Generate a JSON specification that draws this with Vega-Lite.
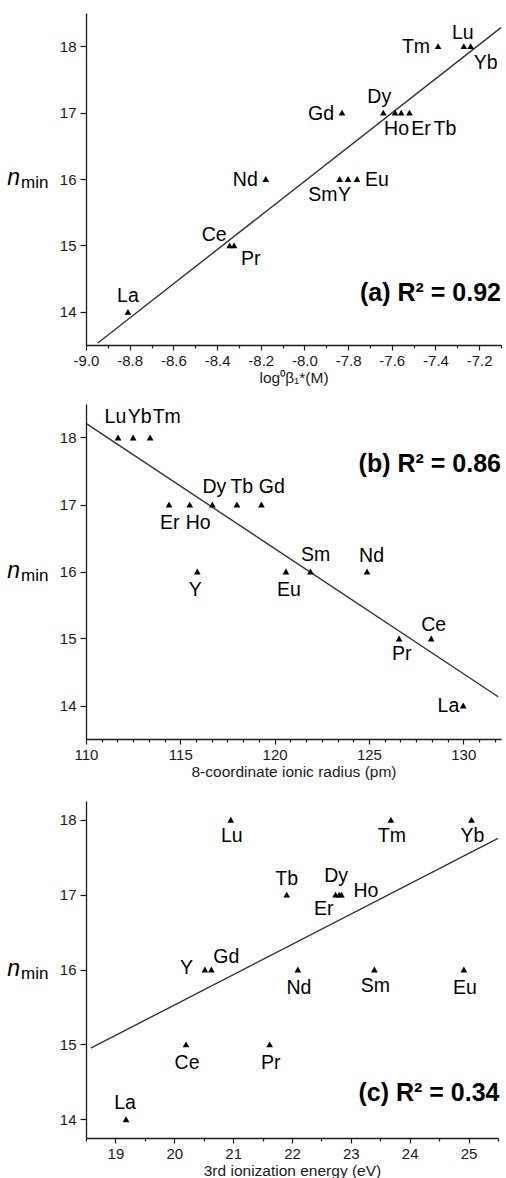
{
  "$schema": "https://vega.github.io/schema/vega-lite/v6.json",
  "padding": {"left": 7, "top": 13, "right": 0, "bottom": 0},
  "config": {
    "font": "Liberation Sans",
    "view": {"stroke": null},
    "axis": {"grid": false, "domainColor": "#1a1a1a", "domainWidth": 1.3, "tickColor": "#1a1a1a", "tickWidth": 1.2, "labelColor": "#1a1a1a", "labelFontSize": 15, "labelFont": "Liberation Sans", "titleFont": "Liberation Sans", "titleFontSize": 15.5, "titleFontWeight": "normal", "titleColor": "#1a1a1a", "labelFlush": false, "labelOverlap": false},
    "axisX": {"labelPadding": 3, "titlePadding": 2},
    "axisY": {"tickSize": 6, "labelPadding": 4},
    "text": {"fontSize": 19.5, "baseline": "alphabetic", "color": "#000", "font": "Liberation Sans"},
    "line": {"color": "#333", "strokeWidth": 1.4},
    "point": {"shape": "triangle-up", "filled": true, "size": 45, "color": "#000", "opacity": 1}
  },
  "datasets": {
    "a": [
      {"el": "La", "x": -8.808, "y": 14},
      {"el": "Ce", "x": -8.342, "y": 15},
      {"el": "Pr", "x": -8.322, "y": 15},
      {"el": "Nd", "x": -8.177, "y": 16},
      {"el": "Sm", "x": -7.839, "y": 16},
      {"el": "Eu", "x": -7.759, "y": 16},
      {"el": "Gd", "x": -7.828, "y": 17},
      {"el": "Tb", "x": -7.519, "y": 17},
      {"el": "Dy", "x": -7.639, "y": 17},
      {"el": "Ho", "x": -7.585, "y": 17},
      {"el": "Er", "x": -7.557, "y": 17},
      {"el": "Tm", "x": -7.388, "y": 18},
      {"el": "Yb", "x": -7.239, "y": 18},
      {"el": "Lu", "x": -7.27, "y": 18},
      {"el": "Y", "x": -7.8, "y": 16}
    ],
    "b": [
      {"el": "La", "x": 130.0, "y": 14},
      {"el": "Ce", "x": 128.3, "y": 15},
      {"el": "Pr", "x": 126.6, "y": 15},
      {"el": "Nd", "x": 124.9, "y": 16},
      {"el": "Sm", "x": 121.9, "y": 16},
      {"el": "Eu", "x": 120.6, "y": 16},
      {"el": "Gd", "x": 119.3, "y": 17},
      {"el": "Tb", "x": 118.0, "y": 17},
      {"el": "Dy", "x": 116.7, "y": 17},
      {"el": "Ho", "x": 115.5, "y": 17},
      {"el": "Er", "x": 114.4, "y": 17},
      {"el": "Tm", "x": 113.4, "y": 18},
      {"el": "Yb", "x": 112.5, "y": 18},
      {"el": "Lu", "x": 111.7, "y": 18},
      {"el": "Y", "x": 115.9, "y": 16}
    ],
    "c": [
      {"el": "La", "x": 19.18, "y": 14},
      {"el": "Ce", "x": 20.2, "y": 15},
      {"el": "Pr", "x": 21.62, "y": 15},
      {"el": "Nd", "x": 22.1, "y": 16},
      {"el": "Sm", "x": 23.4, "y": 16},
      {"el": "Eu", "x": 24.92, "y": 16},
      {"el": "Gd", "x": 20.63, "y": 16},
      {"el": "Tb", "x": 21.91, "y": 17},
      {"el": "Dy", "x": 22.8, "y": 17},
      {"el": "Ho", "x": 22.84, "y": 17},
      {"el": "Er", "x": 22.74, "y": 17},
      {"el": "Tm", "x": 23.68, "y": 18},
      {"el": "Yb", "x": 25.05, "y": 18},
      {"el": "Lu", "x": 20.96, "y": 18},
      {"el": "Y", "x": 20.52, "y": 16}
    ],
    "fitA": [{"x": -8.946, "y": 13.53}, {"x": -7.1, "y": 18.28}],
    "fitB": [{"x": 110, "y": 18.21}, {"x": 131.85, "y": 14.13}],
    "fitC": [{"x": 18.58, "y": 14.95}, {"x": 25.5, "y": 17.75}]
  },
  "spacing": 18,
  "vconcat": [
    {
      "width": 415, "height": 332,
      "resolve": {"scale": {"x": "independent", "y": "independent"}},
      "layer": [
        {
          "data": {"name": "a"},
          "encoding": {
            "x": {"field": "x", "type": "quantitative", "scale": {"domain": [-9, -7.1], "nice": false, "zero": false},
              "axis": {"title": "log⁰β₁*(M)", "labelOverlap": false, "values": [-9, -8.9, -8.8, -8.7, -8.6, -8.5, -8.4, -8.3, -8.2, -8.1, -8, -7.9, -7.8, -7.7, -7.6, -7.5, -7.4, -7.3, -7.2, -7.1],
                "labelExpr": "round(datum.value*10) % 2 == 0 ? replace(format(datum.value, '.1f'), '\u2212', '-') : ''",
                "tickSize": {"condition": {"test": "round(datum.value*10) % 2 == 0", "value": 5}, "value": 3}}},
            "y": {"field": "y", "type": "quantitative", "scale": {"domain": [13.5, 18.5], "nice": false, "zero": false},
              "axis": {"title": null, "format": "d", "labelOverlap": false, "values": [14, 15, 16, 17, 18]}}
          },
          "layer": [
            {"data": {"name": "fitA"}, "mark": {"type": "line"}, "encoding": {}},
            {"mark": {"type": "point"}},
            {"transform": [{"filter": {"field": "el", "oneOf": ["Nd", "Gd", "Tm"]}}], "mark": {"type": "text", "align": "right", "dx": -8, "dy": 7}, "encoding": {"text": {"field": "el"}}},
            {"transform": [{"filter": {"field": "el", "equal": "Eu"}}], "mark": {"type": "text", "align": "left", "dx": 8, "dy": 7}, "encoding": {"text": {"field": "el"}}},
            {"transform": [{"filter": {"field": "el", "equal": "La"}}], "mark": {"type": "text", "align": "center", "dx": 0, "dy": -10}, "encoding": {"text": {"field": "el"}}},
            {"transform": [{"filter": {"field": "el", "equal": "Lu"}}], "mark": {"type": "text", "align": "center", "dx": -1, "dy": -7.5}, "encoding": {"text": {"field": "el"}}},
            {"transform": [{"filter": {"field": "el", "equal": "Dy"}}], "mark": {"type": "text", "align": "center", "dx": -4, "dy": -9.5}, "encoding": {"text": {"field": "el"}}},
            {"transform": [{"filter": {"field": "el", "equal": "Ce"}}], "mark": {"type": "text", "align": "right", "dx": -3, "dy": -4}, "encoding": {"text": {"field": "el"}}},
            {"transform": [{"filter": {"field": "el", "equal": "Pr"}}], "mark": {"type": "text", "align": "left", "dx": 7, "dy": 20}, "encoding": {"text": {"field": "el"}}},
            {"transform": [{"filter": {"field": "el", "equal": "Sm"}}], "mark": {"type": "text", "align": "right", "dx": -2, "dy": 22}, "encoding": {"text": {"field": "el"}}},
            {"transform": [{"filter": {"field": "el", "equal": "Y"}}], "mark": {"type": "text", "align": "left", "dx": -10, "dy": 22}, "encoding": {"text": {"field": "el"}}},
            {"transform": [{"filter": {"field": "el", "equal": "Ho"}}], "mark": {"type": "text", "align": "left", "dx": -11, "dy": 22}, "encoding": {"text": {"field": "el"}}},
            {"transform": [{"filter": {"field": "el", "equal": "Er"}}], "mark": {"type": "text", "align": "left", "dx": 10, "dy": 22}, "encoding": {"text": {"field": "el"}}},
            {"transform": [{"filter": {"field": "el", "equal": "Tb"}}], "mark": {"type": "text", "align": "left", "dx": 24, "dy": 22}, "encoding": {"text": {"field": "el"}}},
            {"transform": [{"filter": {"field": "el", "equal": "Yb"}}], "mark": {"type": "text", "align": "left", "dx": 3, "dy": 23}, "encoding": {"text": {"field": "el"}}}
          ]
        },
        {"data": {"values": [{"label": "(a) R² = 0.92"}]}, "mark": {"type": "text", "align": "right", "fontSize": 25, "fontWeight": "bold"},
          "encoding": {"x": {"datum": -7.1, "scale": {"domain": [-9, -7.1], "nice": false, "zero": false}, "axis": null}, "y": {"datum": 14.16, "scale": {"domain": [13.5, 18.5], "nice": false, "zero": false}, "axis": null}, "text": {"field": "label"}}},
        {"data": {"values": [{"label": "n"}]}, "mark": {"type": "text", "align": "right", "dx": -66, "dy": 6, "fontSize": 23, "fontStyle": "italic"},
          "encoding": {"x": {"datum": -9, "scale": {"domain": [-9, -7.1], "nice": false, "zero": false}, "axis": null}, "y": {"datum": 16, "scale": {"domain": [13.5, 18.5], "nice": false, "zero": false}, "axis": null}, "text": {"field": "label"}}},
        {"data": {"values": [{"label": "min"}]}, "mark": {"type": "text", "align": "left", "dx": -65, "dy": 9, "fontSize": 17},
          "encoding": {"x": {"datum": -9, "scale": {"domain": [-9, -7.1], "nice": false, "zero": false}, "axis": null}, "y": {"datum": 16, "scale": {"domain": [13.5, 18.5], "nice": false, "zero": false}, "axis": null}, "text": {"field": "label"}}}
      ]
    },
    {
      "spacing": 21,
      "vconcat": [
        {
          "width": 415, "height": 335,
          "resolve": {"scale": {"x": "independent", "y": "independent"}},
          "layer": [
            {
              "data": {"name": "b"},
              "encoding": {
                "x": {"field": "x", "type": "quantitative", "scale": {"domain": [110, 132], "nice": false, "zero": false},
                  "axis": {"title": "8-coordinate ionic radius (pm)", "labelOverlap": false, "values": [110, 110.833, 111.667, 112.5, 113.333, 114.167, 115, 115.833, 116.667, 117.5, 118.333, 119.167, 120, 120.833, 121.667, 122.5, 123.333, 124.167, 125, 125.833, 126.667, 127.5, 128.333, 129.167, 130, 130.833, 131.667],
                    "labelExpr": "datum.value % 5 == 0 ? format(datum.value, 'd') : ''",
                    "tickSize": {"condition": {"test": "datum.value % 5 == 0", "value": 5}, "value": 3}}},
                "y": {"field": "y", "type": "quantitative", "scale": {"domain": [13.5, 18.5], "nice": false, "zero": false},
                  "axis": {"title": null, "format": "d", "labelOverlap": false, "values": [14, 15, 16, 17, 18]}}
              },
              "layer": [
                {"data": {"name": "fitB"}, "mark": {"type": "line"}, "encoding": {}},
                {"mark": {"type": "point"}},
                {"transform": [{"filter": {"field": "el", "equal": "Lu"}}], "mark": {"type": "text", "align": "left", "dx": -13.5, "dy": -15}, "encoding": {"text": {"field": "el"}}},
                {"transform": [{"filter": {"field": "el", "equal": "Yb"}}], "mark": {"type": "text", "align": "left", "dx": -5.5, "dy": -15}, "encoding": {"text": {"field": "el"}}},
                {"transform": [{"filter": {"field": "el", "equal": "Tm"}}], "mark": {"type": "text", "align": "left", "dx": 2.5, "dy": -15}, "encoding": {"text": {"field": "el"}}},
                {"transform": [{"filter": {"field": "el", "equal": "Dy"}}], "mark": {"type": "text", "align": "left", "dx": -10, "dy": -12}, "encoding": {"text": {"field": "el"}}},
                {"transform": [{"filter": {"field": "el", "equal": "Tb"}}], "mark": {"type": "text", "align": "left", "dx": -6.5, "dy": -12}, "encoding": {"text": {"field": "el"}}},
                {"transform": [{"filter": {"field": "el", "equal": "Gd"}}], "mark": {"type": "text", "align": "left", "dx": -2.7, "dy": -12}, "encoding": {"text": {"field": "el"}}},
                {"transform": [{"filter": {"field": "el", "equal": "Er"}}], "mark": {"type": "text", "align": "left", "dx": -9, "dy": 24}, "encoding": {"text": {"field": "el"}}},
                {"transform": [{"filter": {"field": "el", "equal": "Ho"}}], "mark": {"type": "text", "align": "left", "dx": -4, "dy": 24}, "encoding": {"text": {"field": "el"}}},
                {"transform": [{"filter": {"field": "el", "equal": "Sm"}}], "mark": {"type": "text", "align": "left", "dx": -9.5, "dy": -11}, "encoding": {"text": {"field": "el"}}},
                {"transform": [{"filter": {"field": "el", "equal": "Nd"}}], "mark": {"type": "text", "align": "left", "dx": -8, "dy": -10}, "encoding": {"text": {"field": "el"}}},
                {"transform": [{"filter": {"field": "el", "equal": "Y"}}], "mark": {"type": "text", "align": "center", "dx": -2, "dy": 24}, "encoding": {"text": {"field": "el"}}},
                {"transform": [{"filter": {"field": "el", "equal": "Eu"}}], "mark": {"type": "text", "align": "center", "dx": 3, "dy": 24}, "encoding": {"text": {"field": "el"}}},
                {"transform": [{"filter": {"field": "el", "equal": "Ce"}}], "mark": {"type": "text", "align": "center", "dx": 2.5, "dy": -8}, "encoding": {"text": {"field": "el"}}},
                {"transform": [{"filter": {"field": "el", "equal": "Pr"}}], "mark": {"type": "text", "align": "center", "dx": 2.5, "dy": 21}, "encoding": {"text": {"field": "el"}}},
                {"transform": [{"filter": {"field": "el", "equal": "La"}}], "mark": {"type": "text", "align": "right", "dx": -4, "dy": 6}, "encoding": {"text": {"field": "el"}}}
              ]
            },
            {"data": {"values": [{"label": "(b) R² = 0.86"}]}, "mark": {"type": "text", "align": "right", "fontSize": 25, "fontWeight": "bold"},
              "encoding": {"x": {"datum": 132, "scale": {"domain": [110, 132], "nice": false, "zero": false}, "axis": null}, "y": {"datum": 17.48, "scale": {"domain": [13.5, 18.5], "nice": false, "zero": false}, "axis": null}, "text": {"field": "label"}}},
            {"data": {"values": [{"label": "n"}]}, "mark": {"type": "text", "align": "right", "dx": -66, "dy": 6, "fontSize": 23, "fontStyle": "italic"},
              "encoding": {"x": {"datum": 110, "scale": {"domain": [110, 132], "nice": false, "zero": false}, "axis": null}, "y": {"datum": 16, "scale": {"domain": [13.5, 18.5], "nice": false, "zero": false}, "axis": null}, "text": {"field": "label"}}},
            {"data": {"values": [{"label": "min"}]}, "mark": {"type": "text", "align": "left", "dx": -65, "dy": 9, "fontSize": 17},
              "encoding": {"x": {"datum": 110, "scale": {"domain": [110, 132], "nice": false, "zero": false}, "axis": null}, "y": {"datum": 16, "scale": {"domain": [13.5, 18.5], "nice": false, "zero": false}, "axis": null}, "text": {"field": "label"}}}
          ]
        },
        {
          "width": 412, "height": 337,
          "resolve": {"scale": {"x": "independent", "y": "independent"}},
          "layer": [
            {
              "data": {"name": "c"},
              "encoding": {
                "x": {"field": "x", "type": "quantitative", "scale": {"domain": [18.5, 25.5], "nice": false, "zero": false},
                  "axis": {"title": "3rd ionization energy (eV)", "labelOverlap": false, "values": [18.5, 19, 19.5, 20, 20.5, 21, 21.5, 22, 22.5, 23, 23.5, 24, 24.5, 25, 25.5],
                    "labelExpr": "datum.value % 1 == 0 ? format(datum.value, 'd') : ''",
                    "tickSize": {"condition": {"test": "datum.value % 1 == 0", "value": 5}, "value": 3}}},
                "y": {"field": "y", "type": "quantitative", "scale": {"domain": [13.75, 18.25], "nice": false, "zero": false},
                  "axis": {"title": null, "format": "d", "labelOverlap": false, "values": [14, 15, 16, 17, 18]}}
              },
              "layer": [
                {"data": {"name": "fitC"}, "mark": {"type": "line"}, "encoding": {}},
                {"mark": {"type": "point"}},
                {"transform": [{"filter": {"field": "el", "oneOf": ["Lu", "Tm", "Yb", "Sm"]}}], "mark": {"type": "text", "align": "center", "dx": 1, "dy": 22}, "encoding": {"text": {"field": "el"}}},
                {"transform": [{"filter": {"field": "el", "oneOf": ["Nd", "Eu", "Ce", "Pr"]}}], "mark": {"type": "text", "align": "center", "dx": 1, "dy": 24.5}, "encoding": {"text": {"field": "el"}}},
                {"transform": [{"filter": {"field": "el", "equal": "Tb"}}], "mark": {"type": "text", "align": "center", "dx": 0, "dy": -9.5}, "encoding": {"text": {"field": "el"}}},
                {"transform": [{"filter": {"field": "el", "equal": "Dy"}}], "mark": {"type": "text", "align": "center", "dx": -3, "dy": -13}, "encoding": {"text": {"field": "el"}}},
                {"transform": [{"filter": {"field": "el", "equal": "Er"}}], "mark": {"type": "text", "align": "right", "dx": -2, "dy": 20.5}, "encoding": {"text": {"field": "el"}}},
                {"transform": [{"filter": {"field": "el", "equal": "Ho"}}], "mark": {"type": "text", "align": "left", "dx": 12, "dy": 2}, "encoding": {"text": {"field": "el"}}},
                {"transform": [{"filter": {"field": "el", "equal": "Y"}}], "mark": {"type": "text", "align": "right", "dx": -12, "dy": 4}, "encoding": {"text": {"field": "el"}}},
                {"transform": [{"filter": {"field": "el", "equal": "Gd"}}], "mark": {"type": "text", "align": "left", "dx": 2, "dy": -6.5}, "encoding": {"text": {"field": "el"}}},
                {"transform": [{"filter": {"field": "el", "equal": "La"}}], "mark": {"type": "text", "align": "center", "dx": -1, "dy": -10}, "encoding": {"text": {"field": "el"}}}
              ]
            },
            {"data": {"values": [{"label": "(c) R² = 0.34"}]}, "mark": {"type": "text", "align": "right", "dx": 1.5, "fontSize": 25, "fontWeight": "bold"},
              "encoding": {"x": {"datum": 25.5, "scale": {"domain": [18.5, 25.5], "nice": false, "zero": false}, "axis": null}, "y": {"datum": 14.247, "scale": {"domain": [13.75, 18.25], "nice": false, "zero": false}, "axis": null}, "text": {"field": "label"}}},
            {"data": {"values": [{"label": "n"}]}, "mark": {"type": "text", "align": "right", "dx": -66, "dy": 6, "fontSize": 23, "fontStyle": "italic"},
              "encoding": {"x": {"datum": 18.5, "scale": {"domain": [18.5, 25.5], "nice": false, "zero": false}, "axis": null}, "y": {"datum": 16, "scale": {"domain": [13.75, 18.25], "nice": false, "zero": false}, "axis": null}, "text": {"field": "label"}}},
            {"data": {"values": [{"label": "min"}]}, "mark": {"type": "text", "align": "left", "dx": -65, "dy": 9, "fontSize": 17},
              "encoding": {"x": {"datum": 18.5, "scale": {"domain": [18.5, 25.5], "nice": false, "zero": false}, "axis": null}, "y": {"datum": 16, "scale": {"domain": [13.75, 18.25], "nice": false, "zero": false}, "axis": null}, "text": {"field": "label"}}}
          ]
        }
      ]
    }
  ]
}
